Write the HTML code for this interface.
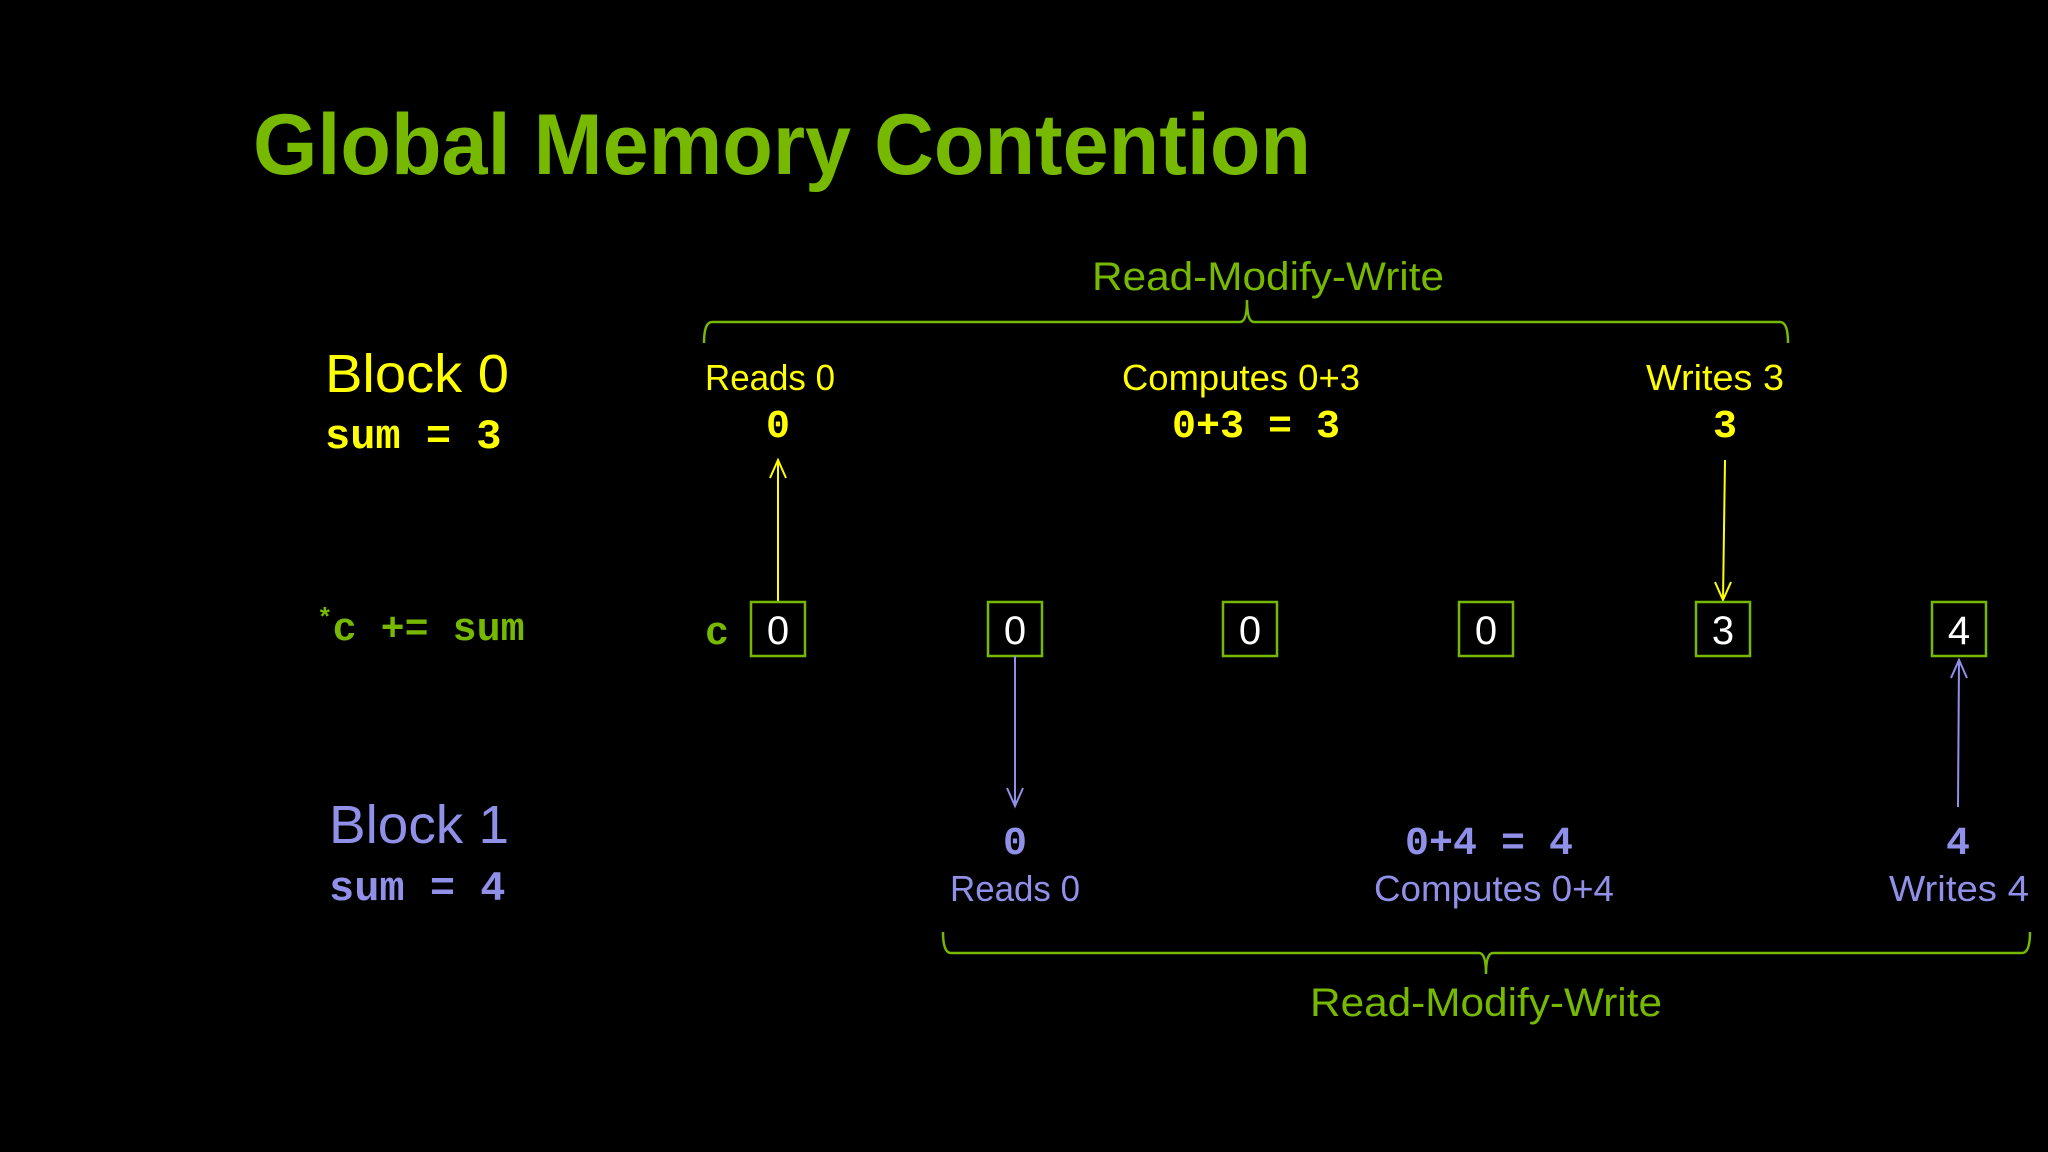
<!DOCTYPE html>
<html><head><meta charset="utf-8"><style>
html,body{margin:0;padding:0;background:#000;}
svg{display:block}
.s{font-family:"Liberation Sans",sans-serif}
.m{font-family:"Liberation Mono",monospace;font-weight:bold}
</style></head><body>
<svg width="2048" height="1152" viewBox="0 0 2048 1152" xmlns="http://www.w3.org/2000/svg">
<rect width="2048" height="1152" fill="#000"/>
<text class="s" x="253" y="174" font-size="86" font-weight="bold" fill="#76b900" textLength="1058" lengthAdjust="spacingAndGlyphs">Global Memory Contention</text>

<!-- top brace -->
<path d="M704 343 Q704 322 712 322 L1240 322 Q1247 322 1247 300 Q1247 322 1254 322 L1780 322 Q1788 322 1788 343" fill="none" stroke="#76b900" stroke-width="2.5"/>
<text class="s" x="1268" y="290" font-size="40" fill="#76b900" text-anchor="middle" textLength="352" lengthAdjust="spacingAndGlyphs">Read-Modify-Write</text>

<!-- Block 0 -->
<text class="s" x="325" y="392" font-size="54" fill="#ffff00" textLength="184" lengthAdjust="spacingAndGlyphs">Block 0</text>
<text class="m" x="325" y="448" font-size="42" fill="#ffff00">sum = 3</text>

<text class="s" x="705" y="390" font-size="36" fill="#ffff00" textLength="130" lengthAdjust="spacingAndGlyphs">Reads 0</text>
<text class="m" x="778" y="437" font-size="40" fill="#ffff00" text-anchor="middle">0</text>
<text class="s" x="1241" y="390" font-size="36" fill="#ffff00" text-anchor="middle" textLength="238" lengthAdjust="spacingAndGlyphs">Computes 0+3</text>
<text class="m" x="1256" y="437" font-size="40" fill="#ffff00" text-anchor="middle">0+3 = 3</text>
<text class="s" x="1715" y="390" font-size="36" fill="#ffff00" text-anchor="middle" textLength="138" lengthAdjust="spacingAndGlyphs">Writes 3</text>
<text class="m" x="1725" y="437" font-size="40" fill="#ffff00" text-anchor="middle">3</text>

<!-- yellow arrows -->
<g stroke="#ffff00" stroke-width="2" fill="none">
<line x1="778" y1="602" x2="778" y2="460"/>
<path d="M770 478 L778 460 L786 478"/>
<line x1="1725" y1="460" x2="1723" y2="600"/>
<path d="M1715 582 L1723 600 L1731 582"/>
</g>

<!-- c row -->
<text class="m" x="317" y="640" font-size="40" fill="#76b900"><tspan font-size="26" dy="-14">*</tspan><tspan dy="14">c += sum</tspan></text>
<text class="m" x="705" y="644" font-size="40" fill="#76b900">c</text>
<g fill="none" stroke="#76b900" stroke-width="2.5">
<rect x="751" y="602" width="54" height="54"/>
<rect x="988" y="602" width="54" height="54"/>
<rect x="1223" y="602" width="54" height="54"/>
<rect x="1459" y="602" width="54" height="54"/>
<rect x="1696" y="602" width="54" height="54"/>
<rect x="1932" y="602" width="54" height="54"/>
</g>
<g class="s" font-size="40" fill="#fff" text-anchor="middle">
<text x="778" y="644">0</text>
<text x="1015" y="644">0</text>
<text x="1250" y="644">0</text>
<text x="1486" y="644">0</text>
<text x="1723" y="644">3</text>
<text x="1959" y="644">4</text>
</g>

<!-- blue arrows -->
<g stroke="#9090e8" stroke-width="2" fill="none">
<line x1="1015" y1="656" x2="1015" y2="806"/>
<path d="M1007 788 L1015 806 L1023 788"/>
<line x1="1958" y1="807" x2="1959" y2="660"/>
<path d="M1951 678 L1959 660 L1967 678"/>
</g>

<!-- Block 1 -->
<text class="s" x="329" y="843" font-size="54" fill="#9090e8" textLength="180" lengthAdjust="spacingAndGlyphs">Block 1</text>
<text class="m" x="329" y="900" font-size="42" fill="#9090e8">sum = 4</text>

<text class="m" x="1015" y="854" font-size="40" fill="#9090e8" text-anchor="middle">0</text>
<text class="s" x="1015" y="901" font-size="36" fill="#9090e8" text-anchor="middle" textLength="130" lengthAdjust="spacingAndGlyphs">Reads 0</text>
<text class="m" x="1489" y="854" font-size="40" fill="#9090e8" text-anchor="middle">0+4 = 4</text>
<text class="s" x="1494" y="901" font-size="36" fill="#9090e8" text-anchor="middle" textLength="240" lengthAdjust="spacingAndGlyphs">Computes 0+4</text>
<text class="m" x="1958" y="854" font-size="40" fill="#9090e8" text-anchor="middle">4</text>
<text class="s" x="1959" y="901" font-size="36" fill="#9090e8" text-anchor="middle" textLength="140" lengthAdjust="spacingAndGlyphs">Writes 4</text>

<!-- bottom brace -->
<path d="M943 932 Q943 953 951 953 L1479 953 Q1486 953 1486 974 Q1486 953 1493 953 L2022 953 Q2030 953 2030 932" fill="none" stroke="#76b900" stroke-width="2.5"/>
<text class="s" x="1486" y="1016" font-size="40" fill="#76b900" text-anchor="middle" textLength="352" lengthAdjust="spacingAndGlyphs">Read-Modify-Write</text>
</svg>
</body></html>
